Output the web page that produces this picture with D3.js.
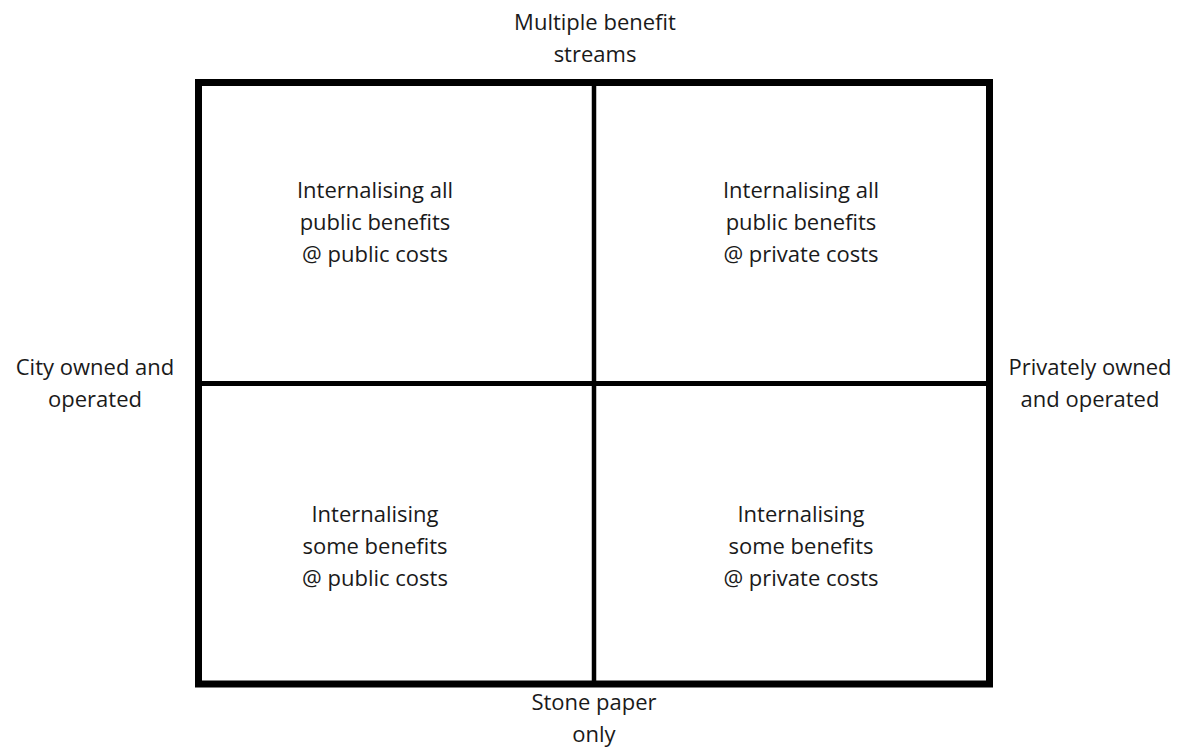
<!DOCTYPE html>
<html>
<head>
<meta charset="utf-8">
<script src="https://cdn.jsdelivr.net/npm/d3@7"></script>
<style>
  html, body { margin: 0; padding: 0; background: #fff; }
  svg { display: block; }
  text { font-family: "Open Sans", Lato, sans-serif; fill: #1a1a1a; }
</style>
</head>
<body>
<svg id="chart" width="1184" height="749"></svg>
<script>
// Quadrant matrix content
const columns = ["City owned and operated", "Privately owned and operated"];
const rows = ["Multiple benefit streams", "Stone paper only"];
const quadrantLabels = [
  { col: 0, row: 0, lines: ["Internalising all", "public benefits", "@ public costs"] },
  { col: 1, row: 0, lines: ["Internalising all", "public benefits", "@ private costs"] },
  { col: 0, row: 1, lines: ["Internalising", "some benefits", "@ public costs"] },
  { col: 1, row: 1, lines: ["Internalising", "some benefits", "@ private costs"] }
];
const axisLabels = [
  { side: "top", lines: ["Multiple benefit", "streams"] },
  { side: "bottom", lines: ["Stone paper", "only"] },
  { side: "left", lines: ["City owned and", "operated"] },
  { side: "right", lines: ["Privately owned", "and operated"] }
];

const svg = d3.select("#chart");
const box = { left: 198.5, right: 989.5, top: 82.5, bottom: 684 };
const x = d3.scaleLinear().domain([0, 2]).range([box.left, box.right]);
const y = d3.scaleLinear().domain([0, 2]).range([box.top, box.bottom]);
const fontSize = 22;
const lineH = 32;

// Outer frame
svg.append("rect")
  .attr("x", x(0)).attr("y", y(0))
  .attr("width", x(2) - x(0)).attr("height", y(2) - y(0))
  .attr("fill", "none").attr("stroke", "#000").attr("stroke-width", 7);

// Dividers
svg.append("line")
  .attr("x1", 594).attr("x2", 594)
  .attr("y1", y(0)).attr("y2", y(2))
  .attr("stroke", "#000").attr("stroke-width", 4.5);
svg.append("line")
  .attr("x1", x(0)).attr("x2", x(2))
  .attr("y1", 383.5).attr("y2", 383.5)
  .attr("stroke", "#000").attr("stroke-width", 5);

function multiline(g, lines, cx, cy) {
  const t = g.append("text")
    .attr("text-anchor", "middle")
    .attr("font-size", fontSize);
  const n = lines.length;
  lines.forEach((l, i) => {
    t.append("tspan")
      .attr("x", cx)
      .attr("y", cy + (i - (n - 1) / 2) * lineH + fontSize * 0.36)
      .text(l);
  });
  return t;
}

// Quadrant text (slight offsets as in reference)
const qCenterX = [375, 801];
const qCenterY = [222, 546];
quadrantLabels.forEach(q => {
  multiline(svg, q.lines, qCenterX[q.col], qCenterY[q.row]);
});

// Axis labels
const axisPos = {
  top: [595, 38],
  bottom: [594, 718],
  left: [95, 383],
  right: [1090, 383]
};
axisLabels.forEach(a => {
  const p = axisPos[a.side];
  multiline(svg, a.lines, p[0], p[1]);
});
</script>
</body>
</html>
